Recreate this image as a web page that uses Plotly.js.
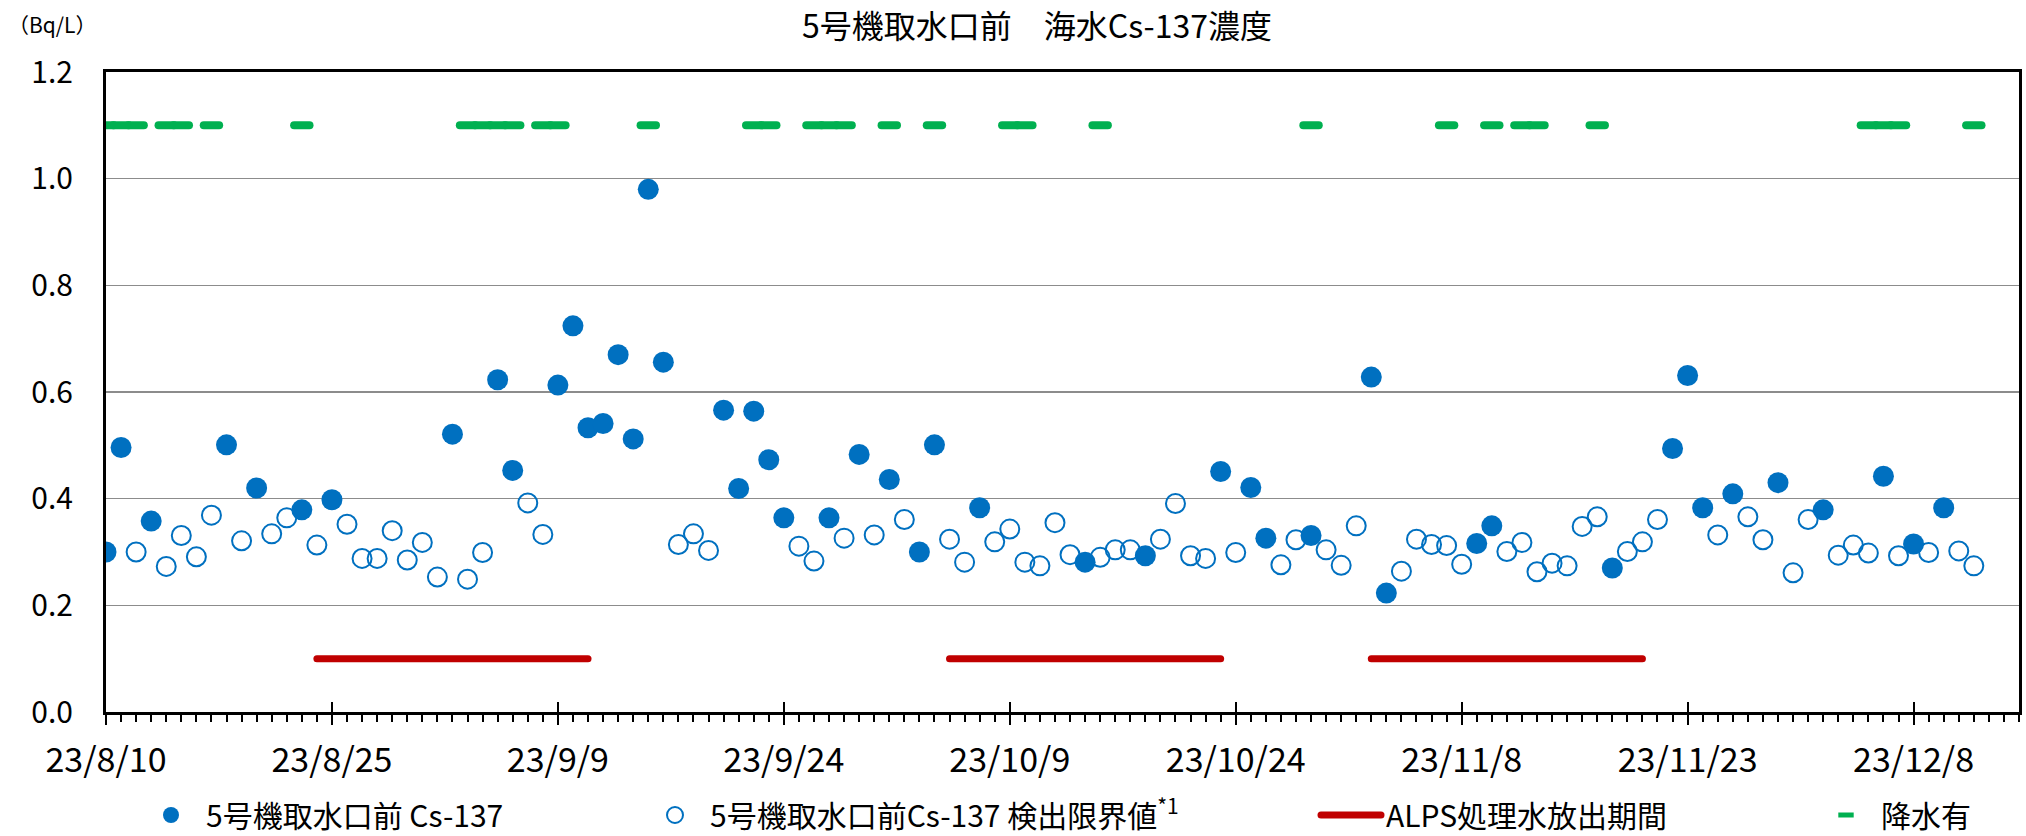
<!DOCTYPE html>
<html>
<head>
<meta charset="utf-8">
<script src="https://cdn.plot.ly/plotly-3.0.1.min.js"></script>
<style>
html,body{margin:0;padding:0;background:#fff;}
#chart{width:2026px;height:836px;}
path.js-line{stroke-linecap:round !important;}
path.point{stroke-linecap:round;}
</style>
</head>
<body>
<div id="chart"></div>
<script>
// Detected Cs-137 (filled markers)
const detDates = ['2023-08-10','2023-08-11','2023-08-13','2023-08-18','2023-08-20','2023-08-23','2023-08-25','2023-09-02','2023-09-05','2023-09-06','2023-09-09','2023-09-10','2023-09-11','2023-09-12','2023-09-13','2023-09-14','2023-09-15','2023-09-16','2023-09-20','2023-09-21','2023-09-22','2023-09-23','2023-09-24','2023-09-27','2023-09-29','2023-10-01','2023-10-03','2023-10-04','2023-10-07','2023-10-14','2023-10-18','2023-10-23','2023-10-25','2023-10-26','2023-10-29','2023-11-02','2023-11-03','2023-11-09','2023-11-10','2023-11-18','2023-11-22','2023-11-23','2023-11-24','2023-11-26','2023-11-29','2023-12-02','2023-12-06','2023-12-08','2023-12-10'];
const detValues = [0.30,0.496,0.358,0.501,0.42,0.379,0.398,0.521,0.623,0.453,0.613,0.724,0.533,0.541,0.67,0.512,0.98,0.656,0.566,0.419,0.564,0.473,0.364,0.364,0.483,0.436,0.30,0.501,0.383,0.281,0.293,0.451,0.421,0.326,0.331,0.628,0.223,0.316,0.349,0.27,0.494,0.631,0.383,0.409,0.43,0.379,0.442,0.315,0.383];

// Detection limit values (open markers)
const ndDates = ['2023-08-12','2023-08-14','2023-08-15','2023-08-16','2023-08-17','2023-08-19','2023-08-21','2023-08-22','2023-08-24','2023-08-26','2023-08-27','2023-08-28','2023-08-29','2023-08-30','2023-08-31','2023-09-01','2023-09-03','2023-09-04','2023-09-07','2023-09-08','2023-09-17','2023-09-18','2023-09-19','2023-09-25','2023-09-26','2023-09-28','2023-09-30','2023-10-02','2023-10-05','2023-10-06','2023-10-08','2023-10-09','2023-10-10','2023-10-11','2023-10-12','2023-10-13','2023-10-15','2023-10-16','2023-10-17','2023-10-19','2023-10-20','2023-10-21','2023-10-22','2023-10-24','2023-10-27','2023-10-28','2023-10-30','2023-10-31','2023-11-01','2023-11-04','2023-11-05','2023-11-06','2023-11-07','2023-11-08','2023-11-11','2023-11-12','2023-11-13','2023-11-14','2023-11-15','2023-11-16','2023-11-17','2023-11-19','2023-11-20','2023-11-21','2023-11-25','2023-11-27','2023-11-28','2023-11-30','2023-12-01','2023-12-03','2023-12-04','2023-12-05','2023-12-07','2023-12-09','2023-12-11','2023-12-12'];
const ndValues = [0.30,0.273,0.331,0.291,0.369,0.321,0.334,0.364,0.313,0.352,0.288,0.288,0.34,0.285,0.318,0.253,0.249,0.299,0.392,0.333,0.314,0.334,0.303,0.311,0.283,0.326,0.332,0.361,0.324,0.281,0.319,0.343,0.281,0.274,0.355,0.295,0.29,0.304,0.304,0.324,0.391,0.293,0.288,0.299,0.276,0.323,0.304,0.275,0.349,0.264,0.324,0.314,0.312,0.277,0.301,0.318,0.263,0.279,0.274,0.348,0.366,0.301,0.319,0.361,0.332,0.366,0.323,0.261,0.361,0.294,0.313,0.298,0.293,0.299,0.302,0.274];

// ALPS treated water discharge periods
const alpsStart = ['2023-08-24','2023-10-05','2023-11-02'];
const alpsEnd   = ['2023-09-11','2023-10-23','2023-11-20'];
const alpsLevel = 0.1;

// Rain days
const rainDates = ['2023-08-10','2023-08-11','2023-08-12','2023-08-14','2023-08-15','2023-08-17','2023-08-23','2023-09-03','2023-09-04','2023-09-05','2023-09-06','2023-09-08','2023-09-09','2023-09-15','2023-09-22','2023-09-23','2023-09-26','2023-09-27','2023-09-28','2023-10-01','2023-10-04','2023-10-09','2023-10-10','2023-10-15','2023-10-29','2023-11-07','2023-11-10','2023-11-12','2023-11-13','2023-11-17','2023-12-05','2023-12-06','2023-12-07','2023-12-12'];
const rainLevel = 1.1;

const xRange = ['2023-08-10','2023-12-15'];
const DAY = 86400000;

// build ALPS segments
const alpsX = [], alpsY = [];
for (let i = 0; i < alpsStart.length; i++) {
  alpsX.push(alpsStart[i], alpsEnd[i], null);
  alpsY.push(alpsLevel, alpsLevel, null);
}

const W = 2026, H = 836;
const M = {l:106, r:7, t:72, b:124};
const pw = W - M.l - M.r, ph = H - M.t - M.b;
const px = v => (v - M.l) / pw;
const py = v => (H - M.b - v) / ph;

const BLUE = '#0070C0', RED = '#C00000', GREEN = '#00B050';
const FONT = '"Noto Sans CJK JP", "Noto Sans", sans-serif';

const traces = [
  {x: detDates, y: detValues, type:'scatter', mode:'markers', name:'5号機取水口前 Cs-137',
   marker:{symbol:'circle', size:21, color:BLUE}, legend:'legend'},
  {x: ndDates, y: ndValues, type:'scatter', mode:'markers', name:'5号機取水口前Cs-137 検出限界値<sup>*1</sup>',
   marker:{symbol:'circle-open', size:19, color:BLUE, line:{width:2, color:BLUE}}, legend:'legend2'},
  {x: alpsX, y: alpsY, type:'scatter', mode:'lines', name:'ALPS処理水放出期間',
   line:{color:RED, width:7}, connectgaps:false, legend:'legend3'},
  {x: rainDates, y: rainDates.map(() => rainLevel), type:'scatter', mode:'markers', name:'降水有',
   marker:{symbol:'line-ew', size:11, color:GREEN, line:{color:GREEN, width:8}}, legend:'legend4'},
  {x: [], y: [], type:'scatter', mode:'markers', xaxis:'x2', yaxis:'y', showlegend:false, hoverinfo:'skip'}
];

const legendBase = {orientation:'h', yanchor:'middle', xanchor:'left', y: py(815), itemwidth:60,
  font:{size:30, color:'#000', family:FONT}, bgcolor:'rgba(0,0,0,0)', borderwidth:0};

const layout = {
  width:W, height:H,
  margin:{l:M.l, r:M.r, t:M.t, b:M.b, autoexpand:false},
  paper_bgcolor:'#fff', plot_bgcolor:'#fff',
  font:{family:FONT, color:'#000'},
  title:{text:'5号機取水口前　海水Cs-137濃度', font:{size:32, color:'#000', family:FONT},
         xref:'container', yref:'container', x:1037/W, xanchor:'center', y:1-27/H, yanchor:'middle'},
  xaxis:{type:'date', range:xRange, tick0:xRange[0], dtick:15*DAY, tickformat:'%y/%-m/%-d',
         ticks:'outside', ticklen:10, tickwidth:2, tickcolor:'#000',
         showline:true, linecolor:'#000', linewidth:3, mirror:true,
         showgrid:false, zeroline:false, tickfont:{size:34, color:'#000'}, ticklabelstandoff:6,
         minor:{tick0:xRange[0], dtick:DAY, ticks:'outside', ticklen:7, tickwidth:2, tickcolor:'#000', showgrid:false}},
  xaxis2:{type:'date', range:xRange, overlaying:'x', anchor:'y', side:'bottom', tick0:xRange[0], dtick:15*DAY,
          ticks:'inside', ticklen:10, tickwidth:2, tickcolor:'#000', showticklabels:false,
          showline:false, showgrid:false, zeroline:false},
  yaxis:{range:[0,1.2], tick0:0, dtick:0.2, tickformat:'.1f', ticks:'',
         showgrid:true, gridcolor:'#8c8c8c', gridwidth:1.5,
         showline:true, linecolor:'#000', linewidth:3, mirror:true, zeroline:false,
         tickfont:{size:30, color:'#000'}, ticklabelstandoff:24},
  legend: Object.assign({}, legendBase, {x: px(136)}),
  legend2: Object.assign({}, legendBase, {x: px(640)}),
  legend3: Object.assign({}, legendBase, {x: px(1316)}),
  legend4: Object.assign({}, legendBase, {x: px(1811)}),
  annotations:[{text:'（Bq/L）', xref:'paper', yref:'paper', x:px(52), y:py(24),
                xanchor:'center', yanchor:'middle', showarrow:false, font:{size:21, color:'#000'}}],
  showlegend:true
};

Plotly.newPlot('chart', traces, layout, {displayModeBar:false, staticPlot:true});
</script>
</body>
</html>
